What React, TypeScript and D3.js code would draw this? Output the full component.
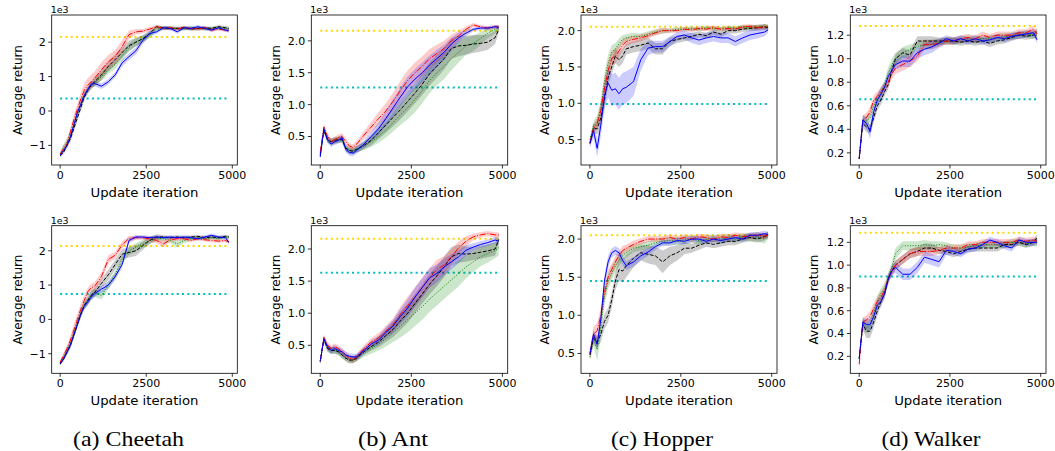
import React from 'react';
import * as d3 from 'd3';

// ---------------- DATA (values in units of 1e3) ----------------
const X = [0,100,200,300,400,500,600,700,800,900,1000,1200,1400,1600,1800,2000,2200,2400,2600,2800,3000,3200,3400,3600,3800,4000,4200,4400,4600,4800,4900];
const X_TICKS = [0, 2500, 5000];
const CHEETAH_TICKS = [-1, 0, 1, 2];
const ANT_TICKS = [0.5, 1.0, 1.5, 2.0];
const HOPPER_TICKS = [0.5, 1.0, 1.5, 2.0];
const WALKER_TICKS = [0.2, 0.4, 0.6, 0.8, 1.0, 1.2];
const CAPTIONS = ['(a) Cheetah', '(b) Ant', '(c) Hopper', '(d) Walker'];
const GOLD_LEVELS = [2.15, 2.16, 2.055, 1.277, 2.14, 2.16, 2.05, 1.285];
const CYAN_LEVELS = [0.36, 1.27, 0.99, 0.656, 0.74, 1.63, 1.45, 0.9];

// Cheetah (top)
const C1_RED = [-1.25,-1.1,-0.95,-0.6,-0.25,0.05,0.35,0.6,0.75,0.85,0.95, 1.2,1.43,1.58,1.87,2.22,2.3,2.32,2.38,2.45,2.4, 2.42,2.38,2.42,2.4,2.38,2.42,2.35,2.38,2.35,2.33];
const C1_RED_SD = [0.06,0.08,0.1,0.12,0.15,0.15,0.18,0.2,0.2,0.2,0.2, 0.22,0.2,0.2,0.18,0.12,0.08,0.06,0.06,0.05,0.05, 0.05,0.05,0.05,0.05,0.05,0.05,0.05,0.05,0.05,0.05];
const C1_BLK = [-1.3,-1.2,-1.0,-0.8,-0.5,-0.2,0.1,0.4,0.6,0.75,0.85, 1.05,1.3,1.5,1.7,1.9,2.0,2.1,2.25,2.45,2.42, 2.4,2.4,2.42,2.38,2.4,2.42,2.4,2.45,2.42,2.4];
const C1_BLK_SD = [0.05,0.06,0.08,0.1,0.1,0.1,0.1,0.1,0.1,0.1,0.12, 0.15,0.15,0.15,0.15,0.15,0.12,0.1,0.08,0.05,0.05, 0.05,0.05,0.05,0.05,0.05,0.05,0.05,0.05,0.05,0.05];
const C1_GRN = [-1.25,-1.05,-0.9,-0.7,-0.4,-0.1,0.2,0.45,0.6,0.72,0.82, 1.0,1.2,1.35,1.6,1.85,2.0,2.1,2.2,2.38,2.4, 2.42,2.4,2.38,2.42,2.4,2.38,2.4,2.42,2.4,2.38];
const C1_GRN_SD = [0.05,0.1,0.12,0.12,0.12,0.1,0.1,0.1,0.1,0.1,0.1, 0.12,0.12,0.12,0.12,0.12,0.12,0.1,0.08,0.06,0.05, 0.05,0.05,0.05,0.05,0.05,0.05,0.05,0.05,0.05,0.05];
const C1_BLU = [-1.28,-1.15,-1.0,-0.75,-0.4,-0.05,0.2,0.45,0.62,0.78,0.8, 0.72,0.85,1.05,1.4,1.58,1.75,2.05,2.25,2.3,2.42, 2.4,2.3,2.42,2.4,2.45,2.4,2.35,2.42,2.35,2.33];
const C1_BLU_SD = [0.05,0.06,0.08,0.08,0.08,0.08,0.08,0.08,0.08,0.08,0.08, 0.08,0.08,0.08,0.1,0.1,0.1,0.1,0.08,0.06,0.05, 0.05,0.05,0.05,0.05,0.05,0.05,0.05,0.05,0.05,0.05];

// Ant (top)
const A1_RED = [0.25,0.65,0.5,0.42,0.45,0.48,0.5,0.42,0.35,0.33,0.38, 0.52,0.65,0.78,0.9,1.05,1.22,1.38,1.5,1.6,1.72, 1.8,1.88,2.0,2.08,2.18,2.25,2.22,2.2,2.22,2.22];
const A1_RED_SD = [0.03,0.05,0.05,0.05,0.05,0.05,0.05,0.05,0.05,0.05,0.05, 0.06,0.08,0.1,0.12,0.14,0.15,0.16,0.16,0.16,0.15, 0.14,0.12,0.1,0.08,0.05,0.03,0.03,0.03,0.03,0.03];
const A1_BLU = [0.18,0.62,0.45,0.38,0.42,0.44,0.48,0.3,0.25,0.24,0.28, 0.38,0.5,0.62,0.78,0.95,1.12,1.28,1.4,1.5,1.62, 1.72,1.82,1.95,2.05,2.12,2.18,2.2,2.2,2.22,2.21];
const A1_BLU_SD = [0.04,0.05,0.05,0.05,0.05,0.05,0.05,0.05,0.05,0.05,0.05, 0.06,0.08,0.1,0.12,0.14,0.15,0.16,0.16,0.16,0.15, 0.14,0.12,0.1,0.08,0.05,0.03,0.03,0.03,0.03,0.03];
const A1_BLK = [0.22,0.6,0.45,0.42,0.44,0.45,0.45,0.32,0.28,0.27,0.3, 0.36,0.44,0.56,0.68,0.8,0.92,1.05,1.18,1.32,1.48, 1.6,1.72,1.88,1.92,1.93,1.95,1.96,1.98,2.05,2.18];
const A1_BLK_SD = [0.03,0.05,0.05,0.05,0.05,0.05,0.05,0.05,0.05,0.05,0.05, 0.06,0.08,0.1,0.12,0.14,0.15,0.16,0.16,0.17,0.18, 0.18,0.17,0.16,0.16,0.15,0.14,0.13,0.12,0.1,0.05];
const A1_GRN = [0.2,0.6,0.45,0.42,0.43,0.45,0.45,0.32,0.28,0.27,0.3, 0.35,0.42,0.5,0.6,0.72,0.84,0.95,1.08,1.22,1.38, 1.5,1.6,1.72,1.82,1.92,1.96,2.04,2.12,2.18,2.2];
const A1_GRN_SD = [0.03,0.05,0.05,0.05,0.05,0.05,0.05,0.05,0.05,0.05,0.05, 0.06,0.08,0.1,0.12,0.14,0.16,0.18,0.2,0.2,0.2, 0.2,0.2,0.18,0.16,0.14,0.12,0.1,0.08,0.06,0.05];

// Hopper (top)
const H1_RED = [0.45,0.65,0.72,0.9,1.2,1.45,1.62,1.65,1.72,1.8,1.85, 1.88,1.9,1.93,1.97,2.0,2.0,2.0,2.02,2.01,2.03, 2.02,2.04,2.02,2.03,2.02,2.05,2.06,2.04,2.05,2.05];
const H1_RED_SD = [0.04,0.06,0.08,0.1,0.12,0.12,0.1,0.1,0.08,0.07,0.06, 0.05,0.05,0.04,0.04,0.04,0.03,0.03,0.03,0.03,0.03, 0.03,0.03,0.03,0.03,0.03,0.03,0.03,0.03,0.03,0.03];
const H1_BLU = [0.45,0.62,0.38,0.7,1.1,1.28,1.18,1.2,1.13,1.2,1.22, 1.3,1.6,1.76,1.78,1.78,1.85,1.92,1.94,1.9,1.87, 1.9,1.92,1.9,1.9,1.85,1.9,1.94,1.96,1.98,2.01];
const H1_BLU_SD = [0.05,0.1,0.12,0.15,0.18,0.2,0.22,0.22,0.22,0.22,0.22, 0.2,0.15,0.1,0.08,0.08,0.07,0.06,0.06,0.07,0.07, 0.07,0.07,0.07,0.07,0.07,0.07,0.07,0.07,0.06,0.04];
const H1_BLK = [0.45,0.65,0.65,0.8,1.05,1.35,1.5,1.65,1.6,1.65,1.75, 1.78,1.8,1.83,1.75,1.75,1.85,1.88,1.9,1.92,1.95, 1.93,1.98,1.95,2.0,2.0,2.02,2.03,2.04,2.05,2.04];
const H1_BLK_SD = [0.04,0.06,0.08,0.1,0.12,0.12,0.1,0.1,0.1,0.1,0.08, 0.08,0.08,0.08,0.08,0.08,0.06,0.05,0.05,0.05,0.04, 0.04,0.04,0.04,0.04,0.04,0.04,0.04,0.04,0.04,0.04];
const H1_GRN = [0.5,0.7,0.75,0.95,1.3,1.55,1.7,1.75,1.82,1.88,1.9, 1.92,1.92,1.95,1.98,2.0,2.0,2.02,2.02,2.03,2.02, 2.04,2.03,2.02,2.04,2.03,2.05,2.04,2.05,2.06,2.05];
const H1_GRN_SD = [0.04,0.06,0.08,0.1,0.12,0.12,0.1,0.08,0.07,0.06,0.05, 0.05,0.04,0.04,0.04,0.04,0.03,0.03,0.03,0.03,0.03, 0.03,0.03,0.03,0.03,0.03,0.03,0.03,0.03,0.03,0.03];

// Walker (top)
const W1_RED = [0.15,0.48,0.5,0.55,0.65,0.68,0.72,0.76,0.8,0.87,0.92, 0.95,0.98,1.02,1.12,1.12,1.13,1.15,1.15,1.17,1.18, 1.17,1.2,1.18,1.2,1.2,1.2,1.22,1.22,1.25,1.21];
const W1_RED_SD = [0.02,0.04,0.04,0.04,0.04,0.04,0.04,0.04,0.04,0.04,0.05, 0.05,0.05,0.04,0.04,0.04,0.03,0.03,0.03,0.03,0.03, 0.03,0.03,0.03,0.03,0.03,0.03,0.03,0.03,0.03,0.03];
const W1_BLU = [0.15,0.48,0.45,0.38,0.55,0.65,0.7,0.76,0.85,0.9,0.95, 0.98,0.98,1.05,1.08,1.1,1.13,1.17,1.15,1.17,1.15, 1.17,1.15,1.16,1.18,1.17,1.19,1.2,1.21,1.22,1.16];
const W1_BLU_SD = [0.02,0.04,0.05,0.06,0.06,0.05,0.05,0.04,0.04,0.04,0.04, 0.05,0.05,0.05,0.05,0.05,0.04,0.03,0.03,0.03,0.03, 0.03,0.03,0.03,0.03,0.03,0.03,0.03,0.03,0.03,0.03];
const W1_BLK = [0.15,0.45,0.42,0.4,0.5,0.6,0.65,0.72,0.78,0.9,1.0, 1.05,1.03,1.15,1.15,1.15,1.15,1.15,1.15,1.14,1.15, 1.14,1.15,1.13,1.15,1.16,1.18,1.2,1.19,1.2,1.23];
const W1_BLK_SD = [0.02,0.04,0.04,0.04,0.04,0.04,0.04,0.04,0.04,0.04,0.04, 0.04,0.04,0.04,0.04,0.04,0.03,0.03,0.03,0.03,0.03, 0.03,0.03,0.03,0.03,0.03,0.03,0.03,0.03,0.03,0.03];
const W1_GRN = [0.15,0.48,0.47,0.5,0.6,0.65,0.72,0.78,0.88,0.95,1.0, 1.05,1.08,1.1,1.12,1.12,1.14,1.15,1.15,1.16,1.17, 1.16,1.17,1.17,1.18,1.19,1.19,1.2,1.21,1.2,1.2];
const W1_GRN_SD = [0.02,0.04,0.04,0.04,0.04,0.04,0.04,0.04,0.05,0.05,0.05, 0.05,0.04,0.04,0.04,0.04,0.03,0.03,0.03,0.03,0.03, 0.03,0.03,0.03,0.03,0.03,0.03,0.03,0.03,0.03,0.03];

// Cheetah (bottom)
const C2_RED = [-1.25,-1.05,-0.85,-0.6,-0.3,0.0,0.3,0.55,0.8,0.92,0.96, 1.25,1.75,1.87,2.17,2.36,2.38,2.38,2.35,2.3,2.2, 2.32,2.35,2.35,2.3,2.35,2.32,2.3,2.28,2.3,2.25];
const C2_RED_SD = [0.05,0.08,0.1,0.12,0.15,0.15,0.15,0.15,0.12,0.12,0.12, 0.12,0.12,0.1,0.1,0.08,0.06,0.06,0.08,0.08,0.1, 0.06,0.06,0.05,0.05,0.05,0.05,0.05,0.05,0.05,0.05];
const C2_BLK = [-1.3,-1.15,-0.95,-0.75,-0.45,-0.15,0.15,0.4,0.55,0.7,0.78, 1.05,1.3,1.6,1.9,1.95,2.0,2.15,2.3,2.4,2.4, 2.38,2.4,2.38,2.4,2.42,2.38,2.4,2.38,2.42,2.4];
const C2_BLK_SD = [0.05,0.06,0.08,0.1,0.1,0.1,0.1,0.1,0.12,0.12,0.12, 0.15,0.15,0.15,0.15,0.15,0.15,0.12,0.1,0.08,0.05, 0.05,0.05,0.05,0.05,0.05,0.05,0.05,0.05,0.05,0.05];
const C2_GRN = [-1.25,-1.1,-0.9,-0.7,-0.4,-0.1,0.2,0.4,0.55,0.7,0.78, 0.7,1.0,1.3,1.75,2.0,2.1,2.2,2.3,2.35,2.35, 2.3,2.2,2.3,2.35,2.38,2.35,2.38,2.35,2.4,2.38];
const C2_GRN_SD = [0.05,0.08,0.1,0.1,0.1,0.1,0.1,0.1,0.12,0.12,0.12, 0.12,0.12,0.12,0.12,0.12,0.12,0.12,0.1,0.08,0.08, 0.08,0.1,0.08,0.06,0.05,0.05,0.05,0.05,0.05,0.05];
const C2_BLU = [-1.28,-1.15,-0.95,-0.75,-0.45,-0.15,0.15,0.38,0.5,0.65,0.75, 0.88,1.0,1.25,1.6,2.3,2.4,2.4,2.38,2.4,2.38, 2.4,2.38,2.4,2.38,2.35,2.4,2.45,2.4,2.38,2.25];
const C2_BLU_SD = [0.05,0.06,0.08,0.08,0.08,0.08,0.1,0.1,0.1,0.1,0.1, 0.1,0.1,0.1,0.1,0.08,0.06,0.05,0.05,0.05,0.05, 0.05,0.05,0.05,0.05,0.05,0.05,0.05,0.05,0.05,0.05];

// Ant (bottom)
const A2_RED = [0.25,0.62,0.5,0.45,0.48,0.45,0.4,0.35,0.3,0.28,0.32, 0.45,0.55,0.62,0.72,0.82,0.98,1.12,1.25,1.4,1.55, 1.68,1.75,1.88,2.02,2.12,2.19,2.22,2.24,2.22,2.22];
const A2_RED_SD = [0.05,0.05,0.05,0.05,0.05,0.05,0.05,0.05,0.05,0.05,0.05, 0.05,0.06,0.07,0.08,0.1,0.12,0.14,0.15,0.15,0.15, 0.15,0.14,0.12,0.1,0.08,0.05,0.04,0.04,0.04,0.04];
const A2_BLU = [0.25,0.6,0.48,0.42,0.45,0.42,0.4,0.35,0.33,0.32,0.32, 0.42,0.52,0.58,0.7,0.8,0.95,1.08,1.25,1.4,1.55, 1.62,1.72,1.8,1.88,1.98,2.03,2.07,2.1,2.14,2.12];
const A2_BLU_SD = [0.05,0.05,0.05,0.05,0.05,0.05,0.05,0.05,0.05,0.05,0.05, 0.05,0.06,0.07,0.08,0.1,0.12,0.14,0.15,0.15,0.15, 0.14,0.13,0.12,0.1,0.08,0.06,0.05,0.05,0.05,0.05];
const A2_BLK = [0.25,0.6,0.45,0.42,0.42,0.4,0.35,0.3,0.27,0.27,0.3, 0.4,0.48,0.55,0.65,0.75,0.88,1.0,1.15,1.3,1.45, 1.58,1.72,1.88,1.93,1.92,1.93,1.95,1.97,2.0,2.15];
const A2_BLK_SD = [0.05,0.05,0.05,0.05,0.05,0.05,0.05,0.05,0.05,0.05,0.05, 0.05,0.06,0.08,0.1,0.12,0.14,0.15,0.15,0.15,0.16, 0.16,0.16,0.15,0.14,0.12,0.1,0.1,0.1,0.1,0.08];
const A2_GRN = [0.25,0.6,0.45,0.42,0.42,0.4,0.35,0.3,0.27,0.27,0.3, 0.38,0.45,0.52,0.6,0.7,0.8,0.9,1.0,1.1,1.22, 1.32,1.42,1.52,1.62,1.72,1.8,1.88,1.93,1.98,2.02];
const A2_GRN_SD = [0.05,0.05,0.05,0.05,0.05,0.05,0.05,0.05,0.05,0.05,0.05, 0.06,0.08,0.1,0.12,0.15,0.18,0.2,0.2,0.2,0.2, 0.2,0.2,0.2,0.2,0.18,0.16,0.15,0.14,0.12,0.12];

// Hopper (bottom)
const H2_RED = [0.5,0.75,0.8,1.0,1.3,1.5,1.6,1.7,1.78,1.85,1.88, 1.93,1.97,2.0,2.0,2.0,2.02,2.0,2.02,2.0,2.03, 2.02,2.0,2.03,2.02,2.05,2.03,2.04,2.05,2.04,2.05];
const H2_RED_SD = [0.06,0.1,0.1,0.1,0.1,0.1,0.08,0.08,0.06,0.06,0.05, 0.05,0.04,0.04,0.04,0.04,0.04,0.04,0.04,0.04,0.04, 0.04,0.04,0.04,0.04,0.04,0.04,0.04,0.04,0.04,0.04];
const H2_BLU = [0.5,0.75,0.62,0.95,1.45,1.7,1.82,1.85,1.82,1.72,1.65, 1.7,1.78,1.83,1.9,1.95,1.95,1.98,1.97,2.0,2.0, 1.97,2.0,1.98,2.0,2.02,2.0,2.05,2.05,2.07,2.06];
const H2_BLU_SD = [0.05,0.06,0.06,0.08,0.08,0.08,0.06,0.06,0.06,0.06,0.06, 0.06,0.06,0.05,0.04,0.04,0.04,0.04,0.04,0.04,0.04, 0.04,0.04,0.04,0.04,0.04,0.04,0.04,0.04,0.04,0.04];
const H2_BLK = [0.48,0.7,0.65,0.75,0.92,1.0,1.2,1.45,1.6,1.58,1.65, 1.75,1.82,1.8,1.78,1.7,1.78,1.82,1.88,1.88,1.92, 1.95,1.93,1.95,1.97,1.97,2.0,2.02,2.0,2.03,2.05];
const H2_BLK_SD = [0.05,0.08,0.08,0.1,0.1,0.1,0.1,0.12,0.15,0.15,0.15, 0.12,0.1,0.12,0.12,0.15,0.12,0.1,0.08,0.06,0.06, 0.05,0.05,0.05,0.05,0.05,0.05,0.05,0.05,0.05,0.04];
const H2_GRN = [0.45,0.7,0.55,0.85,1.25,1.45,1.55,1.65,1.72,1.78,1.82, 1.88,1.9,1.92,1.95,1.97,1.98,1.97,1.99,2.0,1.98, 2.0,2.01,2.0,2.02,2.0,2.03,2.02,2.03,2.0,2.05];
const H2_GRN_SD = [0.05,0.1,0.15,0.12,0.12,0.1,0.1,0.08,0.08,0.06,0.06, 0.05,0.05,0.05,0.05,0.05,0.05,0.05,0.05,0.05,0.05, 0.05,0.05,0.05,0.05,0.05,0.05,0.05,0.06,0.06,0.05];

// Walker (bottom)
const W2_RED = [0.13,0.5,0.52,0.55,0.62,0.68,0.72,0.78,0.88,0.95,1.0, 1.05,1.1,1.12,1.12,1.12,1.13,1.15,1.15,1.15,1.18, 1.18,1.2,1.2,1.2,1.2,1.2,1.22,1.21,1.22,1.21];
const W2_RED_SD = [0.03,0.04,0.04,0.05,0.05,0.05,0.05,0.04,0.04,0.04,0.04, 0.04,0.04,0.04,0.04,0.04,0.03,0.03,0.03,0.03,0.03, 0.03,0.03,0.03,0.03,0.03,0.03,0.03,0.03,0.03,0.03];
const W2_BLU = [0.18,0.5,0.48,0.48,0.55,0.65,0.68,0.75,0.88,0.95,0.98, 0.92,0.92,0.98,1.07,1.05,1.03,1.13,1.12,1.1,1.14, 1.15,1.18,1.22,1.2,1.17,1.15,1.22,1.2,1.2,1.2];
const W2_BLU_SD = [0.03,0.04,0.05,0.05,0.05,0.05,0.04,0.04,0.04,0.04,0.05, 0.05,0.05,0.05,0.05,0.05,0.05,0.04,0.03,0.03,0.03, 0.03,0.03,0.03,0.03,0.03,0.03,0.03,0.03,0.03,0.03];
const W2_BLK = [0.18,0.48,0.42,0.42,0.5,0.6,0.68,0.75,0.88,0.95,1.0, 1.05,1.1,1.12,1.15,1.15,1.13,1.12,1.1,1.12,1.14, 1.15,1.15,1.15,1.15,1.18,1.18,1.2,1.18,1.2,1.24];
const W2_BLK_SD = [0.03,0.05,0.06,0.06,0.05,0.05,0.04,0.04,0.04,0.04,0.04, 0.04,0.04,0.04,0.04,0.04,0.03,0.03,0.03,0.03,0.03, 0.03,0.03,0.03,0.03,0.03,0.03,0.03,0.03,0.03,0.03];
const W2_GRN = [0.18,0.48,0.45,0.48,0.58,0.68,0.75,0.8,0.88,0.98,1.1, 1.17,1.17,1.17,1.18,1.17,1.18,1.17,1.15,1.15,1.16, 1.17,1.18,1.18,1.18,1.18,1.2,1.2,1.19,1.2,1.2];
const W2_GRN_SD = [0.03,0.05,0.05,0.05,0.05,0.05,0.05,0.05,0.05,0.05,0.05, 0.04,0.04,0.04,0.04,0.04,0.03,0.03,0.03,0.03,0.03, 0.03,0.03,0.03,0.03,0.03,0.03,0.03,0.03,0.03,0.03];

// ---------------- LAYOUT ----------------
const COLS = [
  { left: 51.7, right: 237.3, ylab: 21.5 },
  { left: 311.3, right: 507.7, ylab: 280.3 },
  { left: 581, right: 777, ylab: 549.3 },
  { left: 850.3, right: 1046, ylab: 818 },
];
const ROWS = [
  { top: 15, bottom: 165 },
  { top: 225.7, bottom: 373.3 },
];
const CAPTION_POS = [
  { x: 128.5, w: 111 },
  { x: 393, w: 70 },
  { x: 662, w: 102 },
  { x: 931, w: 99 },
];

type S = { mean: number[]; sd: number[] };
type PanelDef = {
  col: number; row: number; domain: [number, number]; ticks: number[]; fmt: string;
  gold: number; cyan: number;
  green: S; black: S; red: S; blue: S;
};

const PANELS: PanelDef[] = [
  { col: 0, row: 0, domain: [-1.57, 2.79], ticks: CHEETAH_TICKS, fmt: 'd', gold: GOLD_LEVELS[0], cyan: CYAN_LEVELS[0],
    green: { mean: C1_GRN, sd: C1_GRN_SD }, black: { mean: C1_BLK, sd: C1_BLK_SD }, red: { mean: C1_RED, sd: C1_RED_SD }, blue: { mean: C1_BLU, sd: C1_BLU_SD } },
  { col: 1, row: 0, domain: [0.053, 2.405], ticks: ANT_TICKS, fmt: '.1f', gold: GOLD_LEVELS[1], cyan: CYAN_LEVELS[1],
    green: { mean: A1_GRN, sd: A1_GRN_SD }, black: { mean: A1_BLK, sd: A1_BLK_SD }, red: { mean: A1_RED, sd: A1_RED_SD }, blue: { mean: A1_BLU, sd: A1_BLU_SD } },
  { col: 2, row: 0, domain: [0.151, 2.215], ticks: HOPPER_TICKS, fmt: '.1f', gold: GOLD_LEVELS[2], cyan: CYAN_LEVELS[2],
    green: { mean: H1_GRN, sd: H1_GRN_SD }, black: { mean: H1_BLK, sd: H1_BLK_SD }, red: { mean: H1_RED, sd: H1_RED_SD }, blue: { mean: H1_BLU, sd: H1_BLU_SD } },
  { col: 3, row: 0, domain: [0.097, 1.371], ticks: WALKER_TICKS, fmt: '.1f', gold: GOLD_LEVELS[3], cyan: CYAN_LEVELS[3],
    green: { mean: W1_GRN, sd: W1_GRN_SD }, black: { mean: W1_BLK, sd: W1_BLK_SD }, red: { mean: W1_RED, sd: W1_RED_SD }, blue: { mean: W1_BLU, sd: W1_BLU_SD } },
  { col: 0, row: 1, domain: [-1.57, 2.73], ticks: CHEETAH_TICKS, fmt: 'd', gold: GOLD_LEVELS[4], cyan: CYAN_LEVELS[4],
    green: { mean: C2_GRN, sd: C2_GRN_SD }, black: { mean: C2_BLK, sd: C2_BLK_SD }, red: { mean: C2_RED, sd: C2_RED_SD }, blue: { mean: C2_BLU, sd: C2_BLU_SD } },
  { col: 1, row: 1, domain: [0.064, 2.363], ticks: ANT_TICKS, fmt: '.1f', gold: GOLD_LEVELS[5], cyan: CYAN_LEVELS[5],
    green: { mean: A2_GRN, sd: A2_GRN_SD }, black: { mean: A2_BLK, sd: A2_BLK_SD }, red: { mean: A2_RED, sd: A2_RED_SD }, blue: { mean: A2_BLU, sd: A2_BLU_SD } },
  { col: 2, row: 1, domain: [0.24, 2.175], ticks: HOPPER_TICKS, fmt: '.1f', gold: GOLD_LEVELS[6], cyan: CYAN_LEVELS[6],
    green: { mean: H2_GRN, sd: H2_GRN_SD }, black: { mean: H2_BLK, sd: H2_BLK_SD }, red: { mean: H2_RED, sd: H2_RED_SD }, blue: { mean: H2_BLU, sd: H2_BLU_SD } },
  { col: 3, row: 1, domain: [0.051, 1.346], ticks: WALKER_TICKS, fmt: '.1f', gold: GOLD_LEVELS[7], cyan: CYAN_LEVELS[7],
    green: { mean: W2_GRN, sd: W2_GRN_SD }, black: { mean: W2_BLK, sd: W2_BLK_SD }, red: { mean: W2_RED, sd: W2_RED_SD }, blue: { mean: W2_BLU, sd: W2_BLU_SD } },
];

const STYLES: { key: 'green' | 'black' | 'red' | 'blue'; color: string; dash?: string }[] = [
  { key: 'green', color: '#008000', dash: '1 1.65' },
  { key: 'black', color: '#000000', dash: '3.7 1.6' },
  { key: 'red', color: '#ff0000', dash: '6.4 1.6 1 1.6' },
  { key: 'blue', color: '#0000ff' },
];

const FONT = 'DejaVu Sans, sans-serif';
const SERIF = 'Liberation Serif, Times New Roman, Times, serif';

function Panel({ p }: { p: PanelDef }) {
  const col = COLS[p.col];
  const row = ROWS[p.row];
  const x = d3.scaleLinear().domain([-245, 5145]).range([col.left, col.right]);
  const y = d3.scaleLinear().domain(p.domain).range([row.bottom, row.top]);
  const fmt = d3.format(p.fmt);
  const line = (vals: number[]) =>
    d3.line<number>().x((_, i) => x(X[i])).y((d) => y(d))(vals) || '';
  const area = (s: S) =>
    d3.area<number>()
      .x((_, i) => x(X[i]))
      .y0((d, i) => y(d - s.sd[i]))
      .y1((d, i) => y(d + s.sd[i]))(s.mean) || '';
  const xMid = (col.left + col.right) / 2;
  const yMid = (row.top + row.bottom) / 2;
  return (
    <g>
      <line x1={x(0)} x2={x(4900)} y1={y(p.gold)} y2={y(p.gold)} stroke="#FFD700" strokeWidth={2} strokeDasharray="2 3.3" />
      <line x1={x(0)} x2={x(4900)} y1={y(p.cyan)} y2={y(p.cyan)} stroke="#00BFBF" strokeWidth={2} strokeDasharray="2 3.3" />
      {STYLES.map((st) => (
        <path key={'b' + st.key} d={area(p[st.key])} fill={st.color} fillOpacity={0.2} stroke="none" />
      ))}
      {STYLES.map((st) => (
        <path key={'l' + st.key} d={line(p[st.key].mean)} fill="none" stroke={st.color} strokeWidth={1} strokeDasharray={st.dash} />
      ))}
      <rect x={col.left} y={row.top} width={col.right - col.left} height={row.bottom - row.top} fill="none" stroke="#000" strokeWidth={0.8} />
      {X_TICKS.map((t) => (
        <g key={'x' + t}>
          <line x1={x(t)} x2={x(t)} y1={row.bottom} y2={row.bottom + 3.5} stroke="#000" strokeWidth={0.8} />
          <text x={x(t)} y={row.bottom + 14} textAnchor="middle" fontSize={11} fontFamily={FONT} fill="#000">{t}</text>
        </g>
      ))}
      {p.ticks.map((t) => (
        <g key={'y' + t}>
          <line x1={col.left} x2={col.left - 3.5} y1={y(t)} y2={y(t)} stroke="#000" strokeWidth={0.8} />
          <text x={col.left - 6} y={y(t)} dy="0.36em" textAnchor="end" fontSize={11} fontFamily={FONT} fill="#000">{fmt(t)}</text>
        </g>
      ))}
      <text x={col.left - 1} y={row.top - 2} fontSize={9.5} fontFamily={FONT} fill="#000">1e3</text>
      <text x={xMid} y={row.bottom + 32} textAnchor="middle" fontSize={12.5} fontFamily={FONT} fill="#000"
        textLength={108} lengthAdjust="spacingAndGlyphs">Update iteration</text>
      <text transform={`translate(${col.ylab},${yMid}) rotate(-90)`} textAnchor="middle" fontSize={12} fontFamily={FONT} fill="#000">Average return</text>
    </g>
  );
}

export default function App() {
  return (
    <svg width={1055} height={451} style={{ position: 'absolute', left: 0, top: 0, background: '#fff' }}>
      <rect x={0} y={0} width={1055} height={451} fill="#fff" />
      {PANELS.map((p, i) => (
        <Panel key={i} p={p} />
      ))}
      {CAPTIONS.map((c, i) => (
        <text key={c} x={CAPTION_POS[i].x} y={446} textAnchor="middle" fontSize={21.5}
          fontFamily={SERIF} fill="#000"
          textLength={CAPTION_POS[i].w} lengthAdjust="spacingAndGlyphs">{c}</text>
      ))}
    </svg>
  );
}
